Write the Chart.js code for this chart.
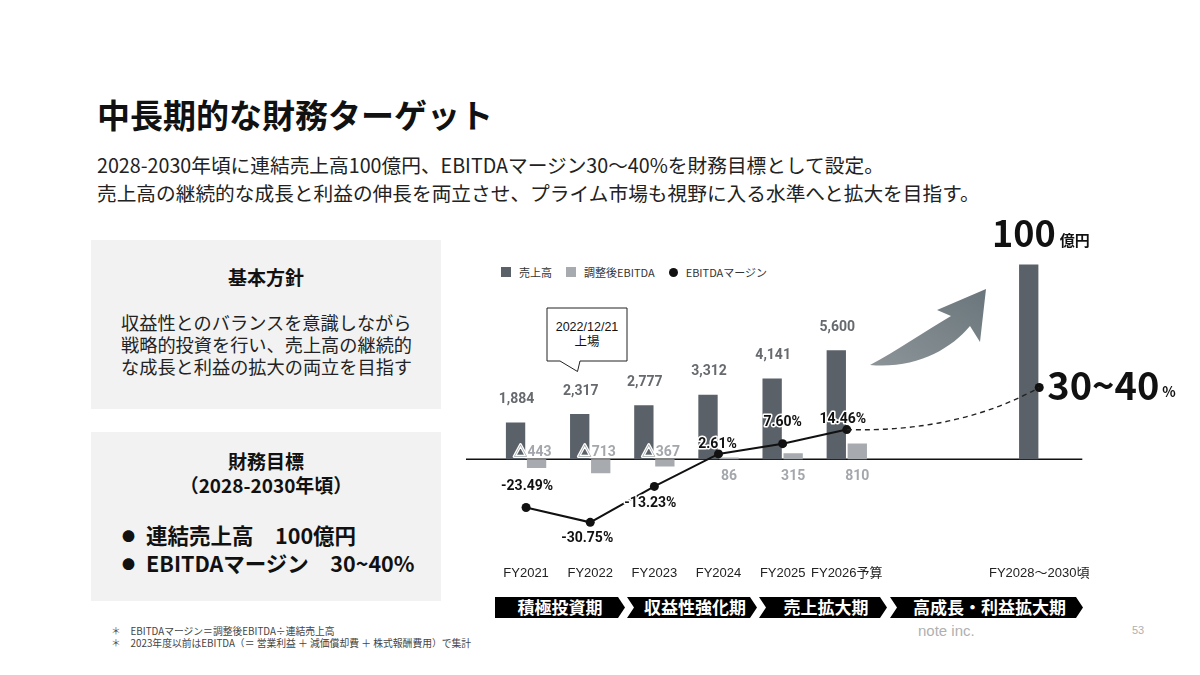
<!DOCTYPE html>
<html lang="ja">
<head>
<meta charset="utf-8">
<script src="https://cdn.jsdelivr.net/npm/chart.js@4.4.1/dist/chart.umd.min.js"></script>
<style>
  html, body { margin: 0; padding: 0; background: #fff; }
  body { width: 1200px; height: 675px; position: relative; overflow: hidden;
         font-family: "Noto Sans CJK JP", "Noto Sans", sans-serif; color: #111; }
  .abs { position: absolute; }
  #title { left: 97px; top: 95px; font-size: 33px; font-weight: 700; line-height: 38px; }
  #sub { left: 97px; top: 151px; font-size: 19.7px; line-height: 28px; color: #222; white-space: nowrap; }
  .panel { left: 91px; width: 350px; background: #f2f2f2; }
  #p1 { top: 240px; height: 169px; }
  #p2 { top: 432px; height: 169px; }
  #legend { left: 501px; top: 265px; font-size: 11px; line-height: 14px; color: #333; display: flex; align-items: center; }
  #legend span.box { display: inline-block; width: 10px; height: 10px; margin-right: 8px; }
  #legend span.dot { display: inline-block; width: 9px; height: 9px; border-radius: 50%; background: #111; margin-right: 8px; }
  #legend .it { display: flex; align-items: center; margin-right: 14px; }
  #foot { left: 111px; top: 625px; font-size: 9.8px; line-height: 12px; color: #444; white-space: nowrap; }
  #note { left: 918px; top: 622px; font-family: "Liberation Sans", sans-serif; font-size: 15px; color: #b0b0b0; }
  #page { left: 1132px; top: 624px; font-family: "Liberation Sans", sans-serif; font-size: 11px; color: #b0b0b0; }
  #chartBox { left: 440px; top: 200px; width: 740px; height: 386px; }
</style>
</head>
<body>
<div id="title" class="abs">中長期的な財務ターゲット</div>
<div id="sub" class="abs">2028-2030年頃に連結売上高100億円、EBITDAマージン30〜40%を財務目標として設定。<br>売上高の継続的な成長と利益の伸長を両立させ、プライム市場も視野に入る水準へと拡大を目指す。</div>

<div id="p1" class="abs panel">
  <div style="position:absolute;left:0;top:24px;width:100%;text-align:center;font-weight:700;font-size:19px;line-height:26px;">基本方針</div>
  <div style="position:absolute;left:30px;top:71px;font-size:18.2px;line-height:22px;color:#222;">収益性とのバランスを意識しながら<br>戦略的投資を行い、売上高の継続的<br>な成長と利益の拡大の両立を目指す</div>
</div>
<div id="p2" class="abs panel">
  <div style="position:absolute;left:0;top:17px;width:100%;text-align:center;font-weight:700;font-size:19px;line-height:24px;">財務目標<br>（2028-2030年頃）</div>
  <div style="position:absolute;left:31px;top:90px;font-weight:700;font-size:21.5px;line-height:26.5px;white-space:nowrap;">
    <span style="font-size:13px;vertical-align:3px;margin-right:11px;">●</span>連結売上高　100億円<br>
    <span style="font-size:13px;vertical-align:3px;margin-right:11px;">●</span>EBITDAマージン　30~40%
  </div>
</div>

<div id="legend" class="abs">
  <div class="it"><span class="box" style="background:#5a6168"></span>売上高</div>
  <div class="it"><span class="box" style="background:#a7abaf"></span>調整後EBITDA</div>
  <div class="it"><span class="dot"></span>EBITDAマージン</div>
</div>

<svg class="abs" style="left:0;top:0" width="1200" height="675">
  <defs>
    <linearGradient id="ag" x1="0" y1="1" x2="1" y2="0">
      <stop offset="0" stop-color="#8c9498"/>
      <stop offset="1" stop-color="#6a767c"/>
    </linearGradient>
  </defs>
  <path d="M547,308 H627 V361 H580 L577.5,371.5 L560,361 H547 Z" fill="#fff" stroke="#222" stroke-width="1"/>
  <text x="587" y="331" text-anchor="middle" font-size="12.5" font-family="Liberation Sans, Noto Sans CJK JP" fill="#111">2022/12/21</text>
  <text x="587" y="346" text-anchor="middle" font-size="12.5" font-family="Noto Sans CJK JP" fill="#111">上場</text>
  <path d="M870,365 C895,352 925,331 951,316 L937,310 L986,289 L980,342 L970,326 C950,350 915,369 870,365 Z" fill="url(#ag)"/>
  <g id="phases"></g>
</svg>

<div id="chartBox" class="abs"><canvas id="chart" width="740" height="386"></canvas></div>

<div id="foot" class="abs">＊　EBITDAマージン＝調整後EBITDA÷連結売上高<br>＊　2023年度以前はEBITDA（＝ 営業利益 ＋ 減価償却費 ＋ 株式報酬費用）で集計</div>
<div id="note" class="abs">note inc.</div>
<div id="page" class="abs">53</div>

<script>
// 単位: 百万円 / %
const categories = ["FY2021", "FY2022", "FY2023", "FY2024", "FY2025", "FY2026予算", "", "", "FY2028～2030頃"];
const revenue = [1884, 2317, 2777, 3312, 4141, 5600, null, null, 10000];
const ebitda = [-443, -713, -367, 86, 315, 810, null, null, null];
const margin = [-23.49, -30.75, -13.23, 2.61, 7.60, 14.46, null, null, null];
const marginTarget = [null, null, null, null, null, 14.46, null, null, 35];
const targetRevenueText = ["100", "億円"];
const targetMarginText = ["30~40", "%"];
const phases = ["積極投資期", "収益性強化期", "売上拡大期", "高成長・利益拡大期"];

// label nudges for the margin line (style only)
const marginLabelOffsets = [[1, -21], [-3, 16], [-4, 17], [-1, -9], [0, -21], [-4, -10]];

const DARK = "#5a6168";
const LIGHT = "#a7abaf";
const JP = '"Noto Sans CJK JP", sans-serif';
const NUM = 'Roboto, "Noto Sans CJK JP", sans-serif';

// phase chevrons under the axis
(function () {
  const g = document.getElementById("phases");
  const spans = [[495, 625], [627, 757], [759, 887], [890, 1083]];
  const top = 597, bot = 618, mid = 607.5, tip = 7;
  phases.forEach((name, i) => {
    const [a, b] = spans[i];
    const notch = i === 0 ? "" : ` L${a + tip},${mid}`;
    const p = document.createElementNS("http://www.w3.org/2000/svg", "path");
    p.setAttribute("d", `M${a},${top} L${b - tip},${top} L${b},${mid} L${b - tip},${bot} L${a},${bot}${notch} Z`);
    p.setAttribute("fill", "#000");
    g.appendChild(p);
    const t = document.createElementNS("http://www.w3.org/2000/svg", "text");
    t.setAttribute("x", (a + b) / 2 + (i === 0 ? 0 : 3));
    t.setAttribute("y", 613.5);
    t.setAttribute("text-anchor", "middle");
    t.setAttribute("font-size", "17");
    t.setAttribute("font-weight", "700");
    t.setAttribute("font-family", "Noto Sans CJK JP");
    t.setAttribute("fill", "#fff");
    t.textContent = name;
    g.appendChild(t);
  });
})();

function outlined(ctx, text, x, y, fill, width) {
  ctx.lineJoin = "round";
  ctx.strokeStyle = "#fff";
  ctx.lineWidth = width;
  ctx.strokeText(text, x, y);
  ctx.fillStyle = fill;
  ctx.fillText(text, x, y);
}

const extras = {
  id: "extras",
  beforeDatasetsDraw(chart) {
    const { ctx, chartArea } = chart;
    const y0 = chart.scales.y.getPixelForValue(0);
    ctx.save();
    ctx.strokeStyle = "#111";
    ctx.lineWidth = 1.5;
    ctx.beginPath();
    ctx.moveTo(chartArea.left - 28, y0);
    ctx.lineTo(chartArea.right + 11, y0);
    ctx.stroke();
    ctx.restore();
  },
  afterDatasetsDraw(chart) {
    const { ctx } = chart;
    const y0 = chart.scales.y.getPixelForValue(0);
    const rev = chart.getDatasetMeta(0).data;
    const eb = chart.getDatasetMeta(1).data;
    const mg = chart.getDatasetMeta(2).data;
    const tg = chart.getDatasetMeta(3).data;
    ctx.save();

    // dashed curve toward the target margin
    const p0 = tg[5], p1 = tg[8];
    ctx.setLineDash([5, 4]);
    ctx.strokeStyle = "#222";
    ctx.lineWidth = 1.4;
    ctx.beginPath();
    ctx.moveTo(p0.x, p0.y);
    ctx.quadraticCurveTo(p0.x + (p1.x - p0.x) * 0.58, p0.y + 3, p1.x, p1.y);
    ctx.stroke();
    ctx.setLineDash([]);

    // revenue labels
    ctx.textAlign = "center";
    ctx.textBaseline = "middle";
    ctx.font = "700 14px " + NUM;
    revenue.forEach((v, i) => {
      if (v == null || i === 8) return;
      ctx.fillStyle = "#666a6e";
      ctx.fillText(v.toLocaleString("en-US"), rev[i].x + 1, rev[i].y - 23);
    });
    // target revenue label
    const big = rev[8];
    ctx.textBaseline = "alphabetic";
    ctx.textAlign = "right";
    ctx.fillStyle = "#111";
    ctx.font = "700 36px " + JP;
    ctx.fillText(targetRevenueText[0], big.x + 27, big.y - 17);
    ctx.textAlign = "left";
    ctx.font = "700 15px " + JP;
    ctx.fillText(targetRevenueText[1], big.x + 31, big.y - 18);

    // EBITDA labels
    ctx.textAlign = "center";
    ctx.textBaseline = "middle";
    ctx.font = "700 14px " + NUM;
    ebitda.forEach((v, i) => {
      if (v == null) return;
      if (v < 0) {
        outlined(ctx, "△" + Math.abs(v), eb[i].x - 4, y0 - 7, "#a3a7ab", 2.5);
      } else {
        ctx.fillStyle = "#a3a7ab";
        ctx.fillText(String(v), eb[i].x, y0 + 17);
      }
    });

    // margin labels
    margin.forEach((v, i) => {
      if (v == null) return;
      const [dx, dy] = marginLabelOffsets[i];
      outlined(ctx, v.toFixed(2) + "%", mg[i].x + dx, mg[i].y + dy, "#111", 3);
    });

    // target margin label
    ctx.textAlign = "left";
    ctx.textBaseline = "middle";
    ctx.fillStyle = "#111";
    ctx.font = "700 38px " + JP;
    ctx.fillText(targetMarginText[0], p1.x + 8, p1.y - 2);
    const w = ctx.measureText(targetMarginText[0]).width;
    ctx.font = "700 14px " + JP;
    ctx.fillText(targetMarginText[1], p1.x + 8 + w + 3, p1.y + 4);
    ctx.restore();
  }
};

new Chart(document.getElementById("chart"), {
  data: {
    labels: categories,
    datasets: [
      { type: "bar", label: "売上高", data: revenue, backgroundColor: DARK, yAxisID: "y", order: 2,
        categoryPercentage: 0.655, barPercentage: 0.92 },
      { type: "bar", label: "調整後EBITDA", data: ebitda, backgroundColor: LIGHT, yAxisID: "y", order: 2,
        categoryPercentage: 0.655, barPercentage: 0.92 },
      { type: "line", label: "EBITDAマージン", data: margin, yAxisID: "y2", order: 0,
        borderColor: "#111", borderWidth: 2, backgroundColor: "#111",
        pointRadius: 4.5, pointBackgroundColor: "#111", pointBorderWidth: 0, tension: 0 },
      { type: "line", label: "目標", data: marginTarget, yAxisID: "y2", order: 0, showLine: false,
        pointRadius: c => (c.dataIndex === 8 ? 4.5 : 0), pointBackgroundColor: "#111",
        pointBorderWidth: 0 }
    ]
  },
  options: {
    responsive: false,
    animation: false,
    layout: { padding: { left: 54, right: 108.7, top: 50, bottom: 0 } },
    plugins: { legend: { display: false }, tooltip: { enabled: false } },
    scales: {
      x: {
        grid: { display: false, drawTicks: false },
        border: { display: false },
        ticks: { color: "#222", padding: 5, autoSkip: false, maxRotation: 0,
                 font: { family: '"Liberation Sans", "Noto Sans CJK JP", sans-serif', size: 13 } }
      },
      y: { display: false, min: -5189, max: 10738 },
      y2: { display: false, min: -49.3, max: 102 }
    }
  },
  plugins: [extras]
});
</script>
</body>
</html>
